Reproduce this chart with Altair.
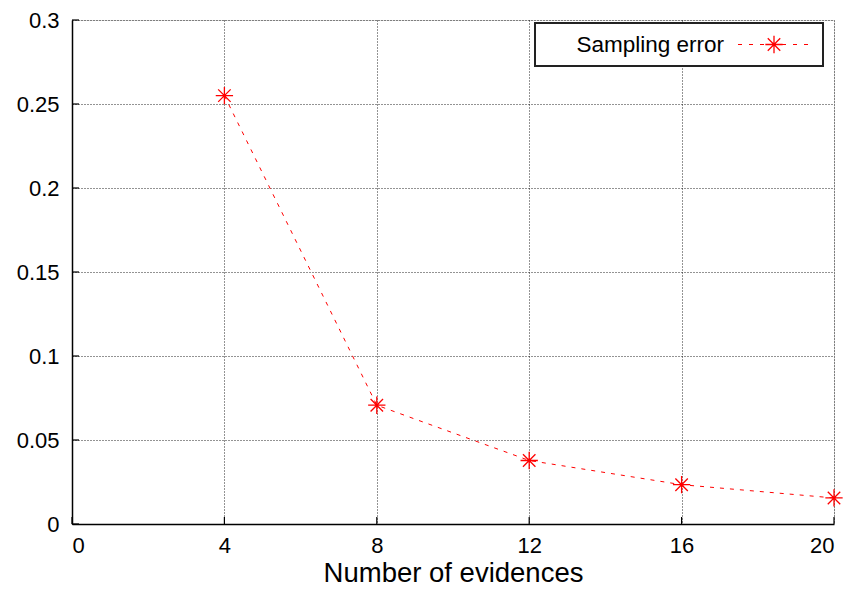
import altair as alt
import pandas as pd

# ---- data ----
evidences = [4, 8, 12, 16, 20]
sampling_error = [0.255, 0.0707, 0.0378, 0.0234, 0.0155]
x_ticks = [0, 4, 8, 12, 16, 20]
y_ticks = [0, 0.05, 0.1, 0.15, 0.2, 0.25, 0.3]
series_label = ["Sampling error"]
x_title = "Number of evidences"

FONT = "Liberation Sans"
ASTERISK = "M-1,0L1,0M0,-1L0,1M-0.72,-0.72L0.72,0.72M-0.72,0.72L0.72,-0.72"

W, H = 762, 504

df = pd.DataFrame({"n": evidences, "err": sampling_error})
xt = pd.DataFrame({"v": x_ticks})
yt = pd.DataFrame({"v": y_ticks})
lab = pd.DataFrame({"label": series_label})

xscale = alt.Scale(domain=[0, 20], nice=False, zero=True)
yscale = alt.Scale(domain=[0, 0.3], nice=False, zero=True)

x_axis = alt.Axis(values=x_ticks, format="d", title=x_title, ticks=False,
                  grid=True, gridDash=[1, 2], gridColor="black", gridOpacity=0.85,
                  domainColor="black", domainWidth=1.5,
                  labelFont=FONT, labelFontSize=22, labelColor="black", labelPadding=11,
                  titleFont=FONT, titleFontSize=27.5, titleFontWeight="normal",
                  titleColor="black", titlePadding=3)
y_axis = alt.Axis(values=y_ticks, format="~g", title=None, ticks=False,
                  grid=True, gridDash=[1, 2], gridColor="black", gridOpacity=0.85,
                  domainColor="black", domainWidth=1.5,
                  labelFont=FONT, labelFontSize=22, labelColor="black", labelPadding=13)

base = alt.Chart(df)

line = base.mark_line(color="red", strokeDash=[4, 6], strokeWidth=1).encode(
    x=alt.X("n:Q", scale=xscale, axis=x_axis),
    y=alt.Y("err:Q", scale=yscale, axis=y_axis),
)
points = base.mark_point(shape=ASTERISK, filled=False, size=300, strokeWidth=1.3,
                         color="red", opacity=1).encode(
    x=alt.X("n:Q", scale=xscale),
    y=alt.Y("err:Q", scale=yscale),
)

xtick_marks = alt.Chart(xt).mark_rule(color="black", strokeWidth=1.2).encode(
    x=alt.X("v:Q", scale=xscale),
    y=alt.value(H), y2=alt.value(H - 7),
)
ytick_marks = alt.Chart(yt).mark_rule(color="black", strokeWidth=1.2).encode(
    y=alt.Y("v:Q", scale=yscale),
    x=alt.value(0), x2=alt.value(7),
)

leg_box = alt.Chart(lab).mark_rect(fill="white", stroke="#222222", strokeWidth=2).encode(
    x=alt.value(463), x2=alt.value(751), y=alt.value(3), y2=alt.value(46)
)
leg_line = alt.Chart(lab).mark_rule(color="red", strokeDash=[4, 7], strokeWidth=1).encode(
    x=alt.value(666), x2=alt.value(737), y=alt.value(24.5)
)
leg_pt = alt.Chart(lab).mark_point(shape=ASTERISK, filled=False, size=300, strokeWidth=1.3,
                                   color="red", opacity=1).encode(
    x=alt.value(702), y=alt.value(24.5)
)
leg_text = alt.Chart(lab).mark_text(align="right", baseline="middle", font=FONT,
                                    fontSize=22.5, color="black").encode(
    x=alt.value(652), y=alt.value(24.5), text="label:N"
)

chart = alt.layer(
    xtick_marks, ytick_marks, line, points, leg_box, leg_line, leg_pt, leg_text
).properties(
    width=W, height=H,
    autosize="none",
    padding={"left": 64, "top": 12, "right": 14, "bottom": 62},
).configure_view(
    stroke="black", strokeDash=[1, 2], strokeWidth=1
).configure(background="white")

chart.save("out.html", embed_options={"renderer": "svg", "actions": False})
